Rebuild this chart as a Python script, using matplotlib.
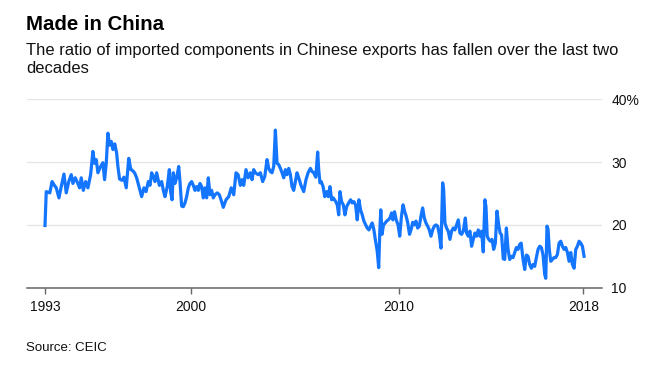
import matplotlib
matplotlib.use("Agg")
import matplotlib.pyplot as plt

plt.rcParams['font.family'] = ['Liberation Sans', 'DejaVu Sans']

# decimal year and share of imported components (%)
years = [
    1993.0, 1993.06, 1993.23, 1993.34, 1993.43, 1993.54, 1993.67, 1993.78, 1993.91, 1994.02,
    1994.14, 1994.26, 1994.34, 1994.45, 1994.55, 1994.66, 1994.74, 1994.84, 1994.95, 1995.06,
    1995.19, 1995.3, 1995.38, 1995.46, 1995.54, 1995.67, 1995.78, 1995.86, 1995.94, 1996.02,
    1996.1, 1996.18, 1996.26, 1996.35, 1996.44, 1996.5, 1996.58, 1996.7, 1996.79, 1996.9,
    1997.02, 1997.12, 1997.19, 1997.3, 1997.4, 1997.53, 1997.64, 1997.75, 1997.85, 1997.96,
    1998.04, 1998.12, 1998.2, 1998.28, 1998.36, 1998.49, 1998.6, 1998.68, 1998.76, 1998.87,
    1998.97, 1999.03, 1999.1, 1999.16, 1999.24, 1999.32, 1999.42, 1999.48, 1999.56, 1999.64,
    1999.72, 1999.8, 1999.88, 1999.96, 2000.04, 2000.12, 2000.2, 2000.28, 2000.36, 2000.44,
    2000.52, 2000.6, 2000.68, 2000.76, 2000.84, 2000.92, 2001.0, 2001.08, 2001.16, 2001.27,
    2001.37, 2001.45, 2001.56, 2001.69, 2001.82, 2001.94, 2002.06, 2002.17, 2002.27, 2002.38,
    2002.46, 2002.54, 2002.65, 2002.75, 2002.86, 2002.94, 2003.02, 2003.1, 2003.23, 2003.34,
    2003.45, 2003.55, 2003.66, 2003.74, 2003.82, 2003.9, 2003.98, 2004.06, 2004.14, 2004.22,
    2004.3, 2004.38, 2004.46, 2004.54, 2004.62, 2004.7, 2004.78, 2004.86, 2004.94, 2005.02,
    2005.1, 2005.18, 2005.29, 2005.42, 2005.53, 2005.63, 2005.74, 2005.82, 2005.9, 2006.0,
    2006.09, 2006.14, 2006.2, 2006.26, 2006.35, 2006.43, 2006.52, 2006.6, 2006.68, 2006.76,
    2006.84, 2006.96, 2007.03, 2007.1, 2007.16, 2007.24, 2007.32, 2007.4, 2007.48, 2007.58,
    2007.67, 2007.75, 2007.83, 2007.91, 2007.99, 2008.07, 2008.15, 2008.23, 2008.31, 2008.4,
    2008.47, 2008.55, 2008.63, 2008.71, 2008.79, 2008.87, 2008.95, 2009.02, 2009.07, 2009.12,
    2009.18, 2009.25, 2009.33, 2009.4, 2009.48, 2009.56, 2009.64, 2009.7, 2009.78, 2009.86,
    2009.95, 2010.03, 2010.11, 2010.19, 2010.27, 2010.33, 2010.41, 2010.5, 2010.58, 2010.65,
    2010.73, 2010.81, 2010.89, 2010.97, 2011.05, 2011.13, 2011.21, 2011.29, 2011.37, 2011.45,
    2011.53, 2011.61, 2011.69, 2011.77, 2011.85, 2011.93, 2012.01, 2012.09, 2012.14, 2012.2,
    2012.28, 2012.36, 2012.44, 2012.52, 2012.6, 2012.68, 2012.76, 2012.84, 2012.92, 2013.0,
    2013.08, 2013.18, 2013.24, 2013.32, 2013.4, 2013.48, 2013.56, 2013.64, 2013.72, 2013.8,
    2013.88, 2013.96, 2014.04, 2014.12, 2014.17, 2014.23, 2014.3, 2014.38, 2014.46, 2014.54,
    2014.62, 2014.7, 2014.78, 2014.85, 2014.92, 2015.0, 2015.07, 2015.15, 2015.23, 2015.31,
    2015.39, 2015.47, 2015.55, 2015.63, 2015.71, 2015.79, 2015.86, 2015.95, 2016.03, 2016.11,
    2016.19, 2016.27, 2016.35, 2016.43, 2016.51, 2016.59, 2016.67, 2016.75, 2016.83, 2016.91,
    2016.99, 2017.04, 2017.1, 2017.15, 2017.21, 2017.28, 2017.36, 2017.44, 2017.52, 2017.6,
    2017.68, 2017.76, 2017.84, 2017.92, 2018.0, 2018.08, 2018.16, 2018.24, 2018.32, 2018.4,
    2018.48, 2018.56, 2018.64, 2018.72, 2018.8, 2018.88,
]
ratio = [
    19.9, 25.3, 25.1, 26.9, 26.4, 25.9, 24.3, 26.1, 28.1, 25.1,
    26.9, 28.0, 26.6, 27.5, 26.8, 25.9, 27.5, 25.5, 26.9, 25.9,
    28.0, 31.7, 29.8, 30.4, 28.3, 29.3, 29.9, 27.2, 29.8, 34.6,
    32.7, 33.3, 32.0, 32.9, 31.4, 29.3, 27.3, 27.1, 27.6, 25.9,
    30.6, 28.8, 28.7, 28.3, 27.5, 25.9, 24.5, 25.9, 25.3, 26.9,
    26.3, 28.3, 27.7, 26.9, 28.3, 26.3, 26.9, 25.5, 24.5, 26.1,
    28.8, 25.3, 24.0, 28.3, 26.6, 27.5, 29.3, 26.9, 23.0, 22.9,
    23.5, 24.5, 25.9, 26.6, 26.9, 26.3, 25.5, 26.1, 25.5, 26.6,
    26.1, 24.3, 25.9, 24.3, 27.5, 24.8, 25.5, 24.3, 24.8, 25.1,
    24.8, 24.0, 22.8, 24.0, 24.5, 25.9, 24.8, 28.3, 28.0, 26.3,
    27.2, 26.3, 28.8, 27.5, 28.3, 27.2, 28.8, 28.3, 28.0, 28.3,
    26.9, 27.7, 30.4, 29.0, 28.5, 28.3, 29.3, 35.1, 29.8, 29.6,
    29.0, 28.3, 27.5, 28.8, 28.0, 29.0, 28.0, 26.1, 25.5, 26.9,
    28.3, 27.5, 26.3, 25.3, 27.2, 28.3, 29.0, 28.5, 28.3, 27.6,
    31.6, 28.8, 26.7, 26.9, 26.1, 24.5, 25.3, 24.5, 26.1, 24.0,
    24.3, 23.7, 23.2, 21.6, 25.3, 23.7, 23.2, 21.6, 22.9, 23.5,
    24.0, 23.5, 23.7, 23.2, 20.8, 24.0, 22.4, 21.6, 20.6, 20.0,
    19.5, 19.2, 19.8, 20.3, 19.2, 17.4, 15.8, 13.2, 18.7, 22.4,
    18.5, 20.0, 20.3, 20.6, 20.8, 21.1, 21.9, 20.8, 22.1, 20.8,
    20.0, 18.2, 21.3, 23.2, 22.1, 21.5, 20.4, 18.5, 19.3, 20.4,
    20.0, 20.6, 19.5, 19.8, 21.4, 22.7, 21.1, 20.3, 19.8, 19.2,
    18.2, 19.2, 19.8, 20.0, 19.8, 18.5, 16.3, 26.7, 25.6, 20.3,
    19.5, 19.0, 17.7, 19.0, 19.5, 19.2, 20.0, 20.8, 18.7, 18.5,
    19.0, 21.1, 18.7, 18.2, 19.0, 16.6, 17.7, 18.7, 18.2, 19.2,
    18.2, 19.0, 15.7, 24.0, 22.9, 18.2, 17.7, 17.4, 17.7, 16.1,
    17.1, 22.2, 20.0, 18.7, 18.4, 14.6, 14.5, 19.5, 16.1, 14.5,
    15.0, 14.8, 15.6, 16.4, 16.1, 16.9, 17.1, 14.5, 12.9, 15.2,
    15.0, 13.7, 13.1, 13.7, 13.4, 14.8, 16.1, 16.6, 16.4, 15.2,
    12.1, 11.5, 19.8, 19.3, 16.1, 14.2, 14.5, 14.8, 14.8, 15.3,
    17.1, 17.4, 16.6, 16.1, 16.4, 15.6, 14.2, 15.6, 13.7, 13.1,
    16.1, 16.6, 17.4, 17.1, 16.6, 15.0,
]

tick_pos = [1993, 2000, 2010, 2018.85]
tick_labels = ['1993', '2000', '2010', '2018']
y_ticks = [10, 20, 30, 40]
y_labels = ['10', '20', '30', '40%']

W, H = 660, 368
fig = plt.figure(figsize=(W / 100, H / 100), dpi=100)
fig.patch.set_facecolor('white')

# axes box in pixel terms
left, right, top, bottom = 27, 601.7, 99.3, 287.7
ax = fig.add_axes([left / W, 1 - bottom / H, (right - left) / W, (bottom - top) / H])

ax.plot(years, ratio, color='#1475ff', lw=2.3, solid_joinstyle='round', clip_on=False, zorder=3)

ax.set_xlim(1992.136, 2019.726)
ax.set_ylim(10, 40)

ax.set_yticks(y_ticks)
ax.set_yticklabels(y_labels)
ax.yaxis.tick_right()
ax.tick_params(axis='y', length=0, pad=6.8, labelsize=10, labelcolor='#111111')
ax.grid(axis='y', color='#e6e6e6', lw=1, zorder=0)

ax.set_xticks(tick_pos)
ax.set_xticklabels(tick_labels)
ax.tick_params(axis='x', length=4, width=1, color='#666666', pad=5,
               labelsize=10, labelcolor='#111111')

for s in ['top', 'left', 'right']:
    ax.spines[s].set_visible(False)
ax.spines['bottom'].set_color('#666666')
ax.spines['bottom'].set_linewidth(1.1)
ax.spines['bottom'].set_zorder(4)

fig.text(26 / W, 1 - 30 / H, 'Made in China', fontsize=14.7, fontweight='bold',
         color='#000000', va='baseline', ha='left')
fig.text(26 / W, 1 - 55 / H,
         'The ratio of imported components in Chinese exports has fallen over the last two',
         fontsize=11.9, color='#111111', va='baseline', ha='left')
fig.text(26 / W, 1 - 73 / H, 'decades', fontsize=11.9, color='#111111',
         va='baseline', ha='left')
fig.text(26 / W, 1 - 351 / H, 'Source: CEIC', fontsize=9.5, color='#111111',
         va='baseline', ha='left')

fig.savefig('out.png', dpi=100, facecolor='white')
